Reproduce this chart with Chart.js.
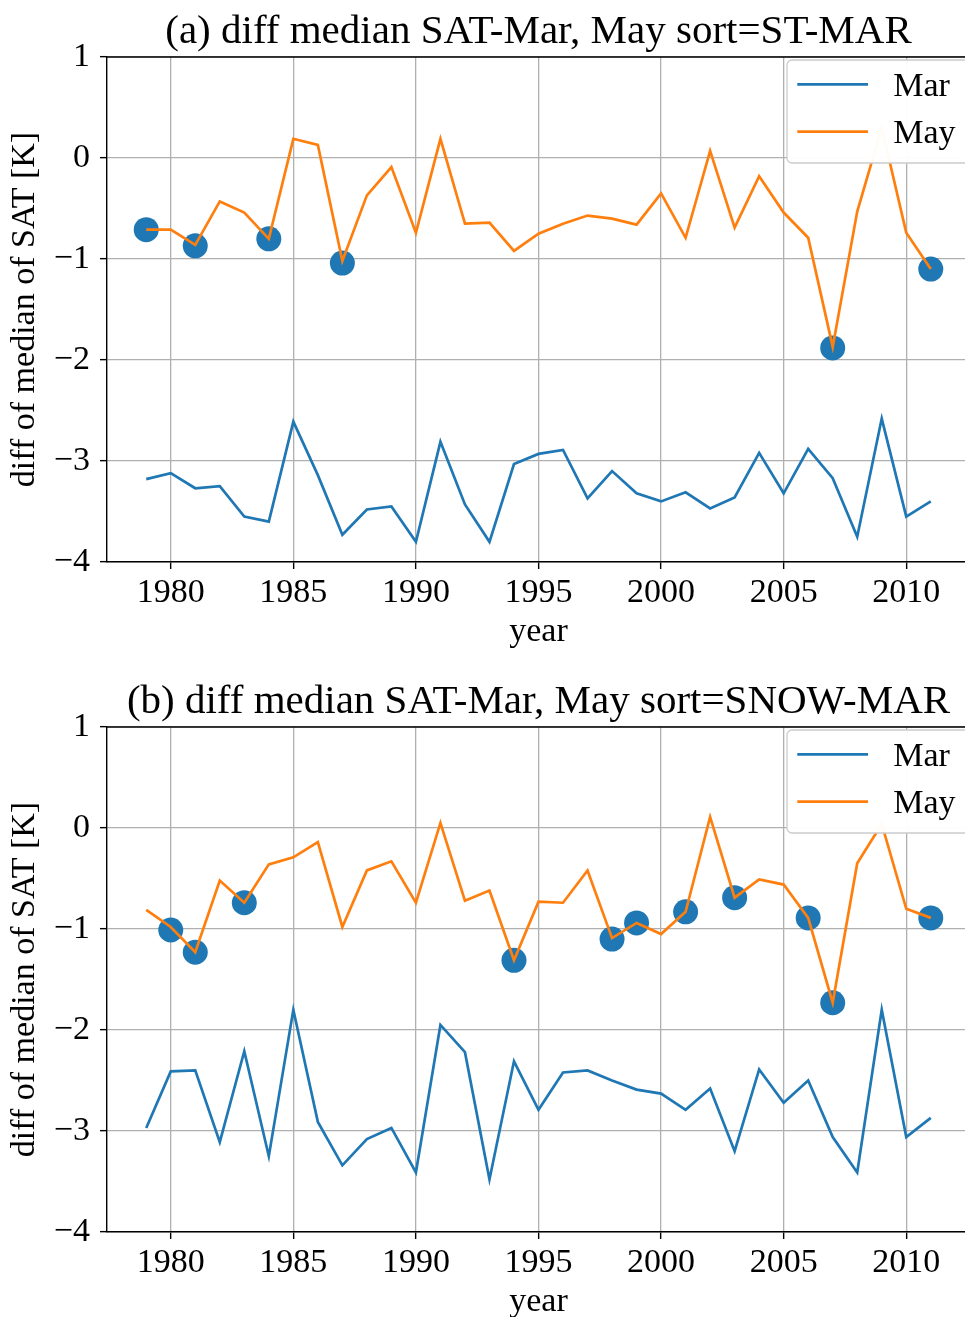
<!DOCTYPE html>
<html>
<head>
<meta charset="utf-8">
<title>diff median SAT</title>
<script src="https://cdn.jsdelivr.net/npm/chart.js@4/dist/chart.umd.min.js"></script>
<style>
  html, body { margin: 0; padding: 0; background: #fff; overflow: hidden; }
  .panel { position: absolute; left: 0; }
  #panel-a { top: 0; }
  #panel-b { top: 670px; }
</style>
</head>
<body>
<canvas id="panel-a" class="panel" width="975" height="660"></canvas>
<canvas id="panel-b" class="panel" width="975" height="660"></canvas>
<script>
// --- data ---
const years = [1979, 1980, 1981, 1982, 1983, 1984, 1985, 1986, 1987, 1988,
  1989, 1990, 1991, 1992, 1993, 1994, 1995, 1996, 1997, 1998,
  1999, 2000, 2001, 2002, 2003, 2004, 2005, 2006, 2007, 2008,
  2009, 2010, 2011];

// (a) sorted by ST-MAR
const marA = [-3.18, -3.12, -3.27, -3.25, -3.55, -3.60, -2.61, -3.14, -3.73, -3.48,
  -3.45, -3.80, -2.81, -3.43, -3.80, -3.03, -2.93, -2.89, -3.37, -3.10,
  -3.32, -3.40, -3.31, -3.47, -3.36, -2.92, -3.32, -2.88, -3.17, -3.75,
  -2.58, -3.55, -3.40];
const mayA = [-0.71, -0.71, -0.86, -0.43, -0.54, -0.80, 0.19, 0.13, -1.02, -0.37,
  -0.09, -0.74, 0.19, -0.65, -0.64, -0.92, -0.75, -0.65, -0.57, -0.60,
  -0.66, -0.35, -0.79, 0.07, -0.69, -0.18, -0.54, -0.79, -1.87, -0.53,
  0.30, -0.74, -1.10];
const markYearsA = [1979, 1981, 1984, 1987, 2007, 2011];
const markValsA = [-0.71, -0.87, -0.80, -1.04, -1.88, -1.10];

// (b) sorted by SNOW-MAR
const marB = [-2.97, -2.41, -2.40, -3.11, -2.21, -3.25, -1.80, -2.91, -3.34, -3.08,
  -2.97, -3.41, -1.95, -2.22, -3.48, -2.31, -2.79, -2.42, -2.40, -2.50,
  -2.59, -2.63, -2.79, -2.58, -3.20, -2.39, -2.72, -2.50, -3.06, -3.41,
  -1.80, -3.06, -2.87];
const mayB = [-0.81, -0.98, -1.23, -0.52, -0.74, -0.36, -0.29, -0.14, -0.98, -0.42,
  -0.33, -0.74, 0.05, -0.72, -0.62, -1.31, -0.73, -0.74, -0.42, -1.09,
  -0.94, -1.05, -0.83, 0.11, -0.69, -0.51, -0.56, -0.89, -1.73, -0.35,
  0.04, -0.80, -0.89];
const markYearsB = [1980, 1981, 1983, 1994, 1998, 1999, 2001, 2003, 2006, 2007, 2011];
const markValsB = [-1.01, -1.23, -0.74, -1.31, -1.10, -0.94, -0.83, -0.69, -0.89, -1.73, -0.89];

const xTicks = [1980, 1985, 1990, 1995, 2000, 2005, 2010];
const yTicks = [-4, -3, -2, -1, 0, 1];
const X_MIN = 1977.4, X_MAX = 2012.6;
const Y_MIN = -4, Y_MAX = 1;

const BLUE = '#1f77b4';
const ORANGE = '#ff7f0e';
const SERIF = '"Liberation Serif", "DejaVu Serif", serif';
const FONT = { family: SERIF, size: 34, weight: 'normal', lineHeight: 1.2 };
const LINE_W = 2.7;

function pts(xs, ys){ return xs.map((x, i) => ({ x, y: ys[i] })); }
function fmtMinus(v){ return v < 0 ? '\u2212' + Math.abs(v) : String(v); }

// top/right spines + the in-axes legend (upper right), drawn last
const frameAndLegend = {
  id: 'frameAndLegend',
  afterDraw(chart){
    const { ctx, chartArea: ca } = chart;
    ctx.save();
    ctx.strokeStyle = '#000';
    ctx.lineWidth = 1.4;
    ctx.beginPath();
    ctx.moveTo(ca.left, ca.top); ctx.lineTo(ca.right, ca.top); ctx.lineTo(ca.right, ca.bottom);
    ctx.stroke();

    const items = chart.data.datasets.filter(d => !d.isMarker);
    const bx = ca.left + 680, by = ca.top + 3;
    ctx.beginPath();
    ctx.roundRect(bx, by, 220, 103, 5);
    ctx.fillStyle = 'rgba(255,255,255,0.97)';
    ctx.fill();
    ctx.strokeStyle = '#cccccc';
    ctx.lineWidth = 1.3;
    ctx.stroke();

    ctx.font = `${FONT.size}px ${SERIF}`;
    ctx.textBaseline = 'alphabetic';
    ctx.textAlign = 'left';
    items.forEach((d, i) => {
      const y = ca.top + 27.3 + i * 47.4;
      ctx.strokeStyle = d.borderColor;
      ctx.lineWidth = LINE_W;
      ctx.beginPath();
      ctx.moveTo(ca.left + 690.3, y); ctx.lineTo(ca.left + 761, y);
      ctx.stroke();
      ctx.fillStyle = '#000';
      ctx.fillText(d.label, ca.left + 786.3, y + 11.4);
    });
    ctx.restore();
  }
};

function axisCommon(){
  return {
    grid: { color: '#b0b0b0', lineWidth: 1.3, drawTicks: true, tickLength: 7, tickColor: '#000', tickWidth: 1.4 },
    border: { display: true, color: '#000', width: 1.4 },
  };
}

function makePanel(canvasId, title, mar, may, markYears, markVals){
  const ctx = document.getElementById(canvasId).getContext('2d');
  return new Chart(ctx, {
    type: 'line',
    data: {
      datasets: [
        { label: 'Mar', data: pts(years, mar), borderColor: BLUE, borderWidth: LINE_W, pointRadius: 0, fill: false, tension: 0, order: 2 },
        { label: 'May', data: pts(years, may), borderColor: ORANGE, borderWidth: LINE_W, pointRadius: 0, fill: false, tension: 0, order: 1 },
        { label: 'sorted', isMarker: true, data: pts(markYears, markVals), showLine: false, pointRadius: 12.5,
          pointBackgroundColor: BLUE, pointBorderWidth: 0, borderColor: BLUE, order: 3 },
      ]
    },
    options: {
      responsive: false,
      animation: false,
      devicePixelRatio: 1,
      // fixed plot box; big markers must not shrink it
      layout: { autoPadding: false, padding: { left: 0, right: 5, top: 0, bottom: 0 } },
      plugins: {
        legend: { display: false },
        tooltip: { enabled: false },
        title: { display: true, text: title, fullSize: false, color: '#000',
          font: { family: SERIF, size: 41, weight: 'normal', lineHeight: 1.2 }, padding: { top: 7.2, bottom: 0.6 } },
      },
      scales: {
        x: {
          type: 'linear', min: X_MIN, max: X_MAX,
          ...axisCommon(),
          afterBuildTicks: s => { s.ticks = xTicks.map(v => ({ value: v })); },
          afterFit: s => { s.height = 98; s.paddingLeft = 0; s.paddingRight = 0; },
          ticks: { color: '#000', font: FONT, padding: 4, maxRotation: 0, autoSkip: false, callback: v => String(v) },
          title: { display: true, text: 'year', color: '#000', font: FONT, padding: { top: 0, bottom: 7.5 } },
        },
        y: {
          type: 'linear', min: Y_MIN, max: Y_MAX,
          ...axisCommon(),
          afterBuildTicks: s => { s.ticks = yTicks.map(v => ({ value: v })); },
          afterFit: s => { s.width = 107; },
          ticks: { color: '#000', font: FONT, padding: 10, callback: v => fmtMinus(v) },
          title: { display: true, text: 'diff of median of SAT [K]', color: '#000', font: FONT, padding: { top: 4.6, bottom: 0 } },
        }
      }
    },
    plugins: [frameAndLegend]
  });
}

makePanel('panel-a', '(a) diff median SAT-Mar, May sort=ST-MAR', marA, mayA, markYearsA, markValsA);
makePanel('panel-b', '(b) diff median SAT-Mar, May sort=SNOW-MAR', marB, mayB, markYearsB, markValsB);
</script>
</body>
</html>
